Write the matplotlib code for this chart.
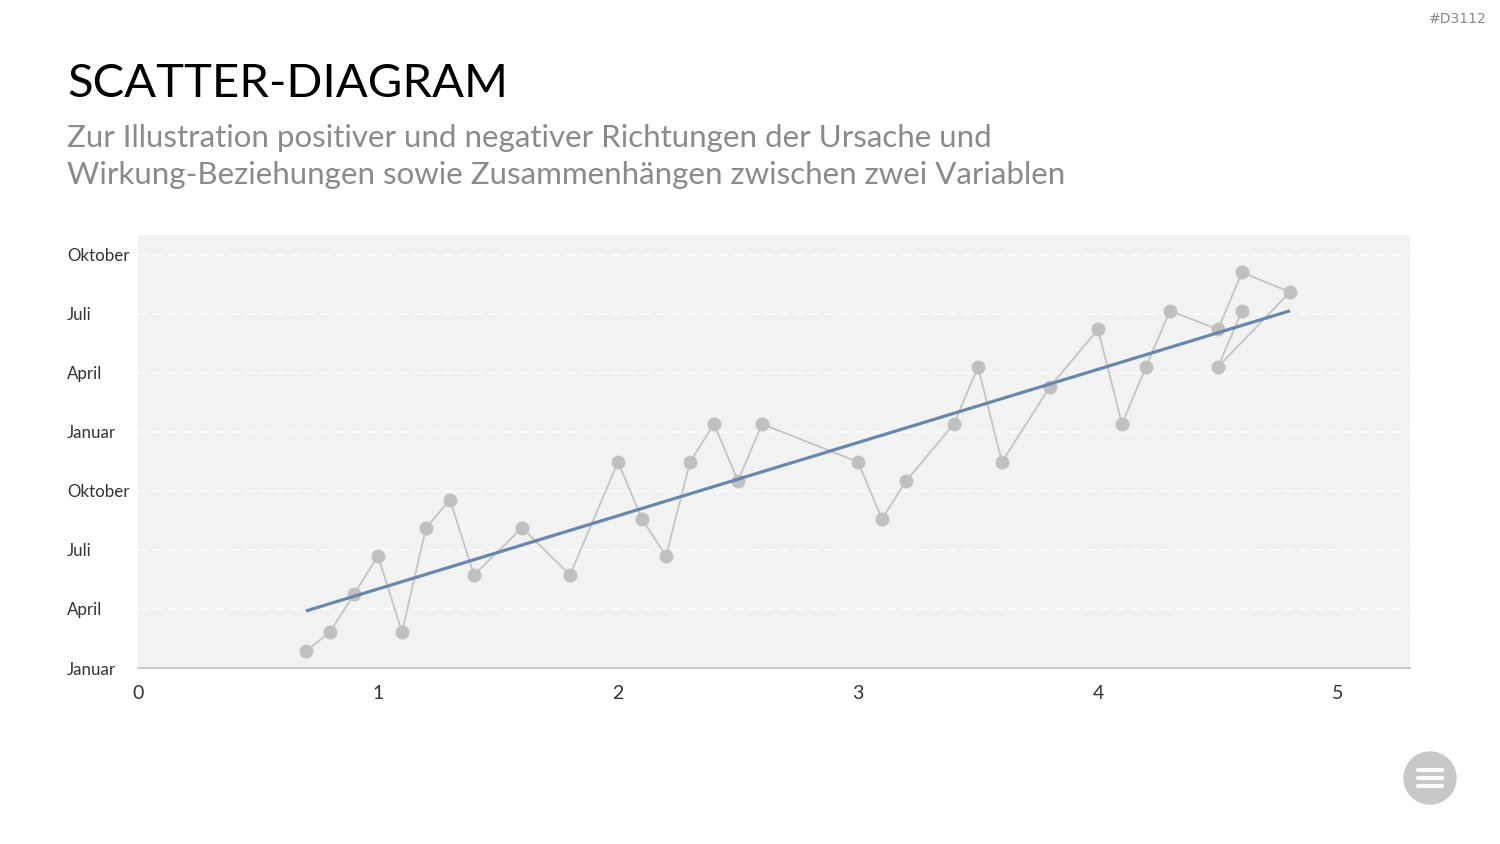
import matplotlib.pyplot as plt
from matplotlib.patches import Circle
from matplotlib.lines import Line2D

# data (x values, y in months since first January)
x = [0.7, 0.8, 0.9, 1.0, 1.1, 1.2, 1.3, 1.4, 1.6, 1.8, 2.0, 2.1, 2.2, 2.3, 2.4, 2.5, 2.6,
     3.0, 3.1, 3.2, 3.4, 3.5, 3.6, 3.8, 4.0, 4.1, 4.2, 4.3, 4.5, 4.6, 4.8, 4.5, 4.6]
y = [0.86, 1.83, 3.76, 5.69, 1.83, 7.12, 8.54, 4.73, 7.12, 4.73, 10.47, 7.57, 5.69, 10.47, 12.4, 9.5, 12.4,
     10.47, 7.57, 9.5, 12.4, 15.3, 10.47, 14.3, 17.2, 12.4, 15.3, 18.15, 17.2, 20.1, 19.1, 15.3, 18.15]
trend_x = [0.7, 4.8]
trend_y = [2.9, 18.15]

ytick_vals = [0, 3, 6, 9, 12, 15, 18, 21]
ytick_labels = ['Januar', 'April', 'Juli', 'Oktober', 'Januar', 'April', 'Juli', 'Oktober']
xtick_vals = [0, 1, 2, 3, 4, 5]

plt.rcParams['font.family'] = ['Lato', 'DejaVu Sans']

fig = plt.figure(figsize=(15, 8.44), dpi=100)
ax = fig.add_axes([0.092, 0.2085, 0.848, 0.5131])
ax.set_facecolor('#f2f2f2')

ax.plot(x, y, color='#c4c4c4', lw=1.3, marker='o', ms=9, mfc='#c0c0c0', mec='#c0c0c0', zorder=3)
ax.plot(trend_x, trend_y, color='#6787ae', lw=2.3, zorder=4, solid_capstyle='butt')

ax.set_xlim(0, 5.3)
ax.set_ylim(0, 22)
ax.set_xticks(xtick_vals)
ax.set_yticks(ytick_vals)
ax.set_yticklabels(ytick_labels)
ax.grid(axis='y', color='white', ls=(0, (6, 4)), lw=1.1, zorder=1)
ax.set_axisbelow(True)

for s in ['top', 'right', 'left']:
    ax.spines[s].set_visible(False)
ax.spines['bottom'].set_color('#bfbfbf')
ax.spines['bottom'].set_linewidth(1.2)

ax.tick_params(axis='x', length=0, pad=12, labelsize=14, labelcolor='#333333')
ax.tick_params(axis='y', length=0, pad=51, labelsize=12.2, labelcolor='#333333')
for lbl in ax.get_yticklabels():
    lbl.set_horizontalalignment('left')

fig.text(0.0447, 0.901, 'SCATTER-DIAGRAM', fontsize=34, color='black', va='center', ha='left')
fig.text(0.0447, 0.837, 'Zur Illustration positiver und negativer Richtungen der Ursache und',
         fontsize=22.5, color='#8a8a8a', va='center', ha='left')
fig.text(0.0447, 0.793, 'Wirkung-Beziehungen sowie Zusammenhängen zwischen zwei Variablen',
         fontsize=22.5, color='#8a8a8a', va='center', ha='left')
fig.text(0.991, 0.977, '#D3112', fontsize=10, color='#888888', va='center', ha='right',
         family=['DejaVu Sans'])

# menu button
fig.patches.append(Circle((1430, 844 - 778), 26, transform=None, color='#c8c8c8'))
for dy in (-8, 0, 8):
    fig.lines.append(Line2D([1418, 1442], [844 - 778 + dy] * 2, transform=None,
                            color='white', lw=3, solid_capstyle='round'))

fig.savefig('out.png', dpi=100)
